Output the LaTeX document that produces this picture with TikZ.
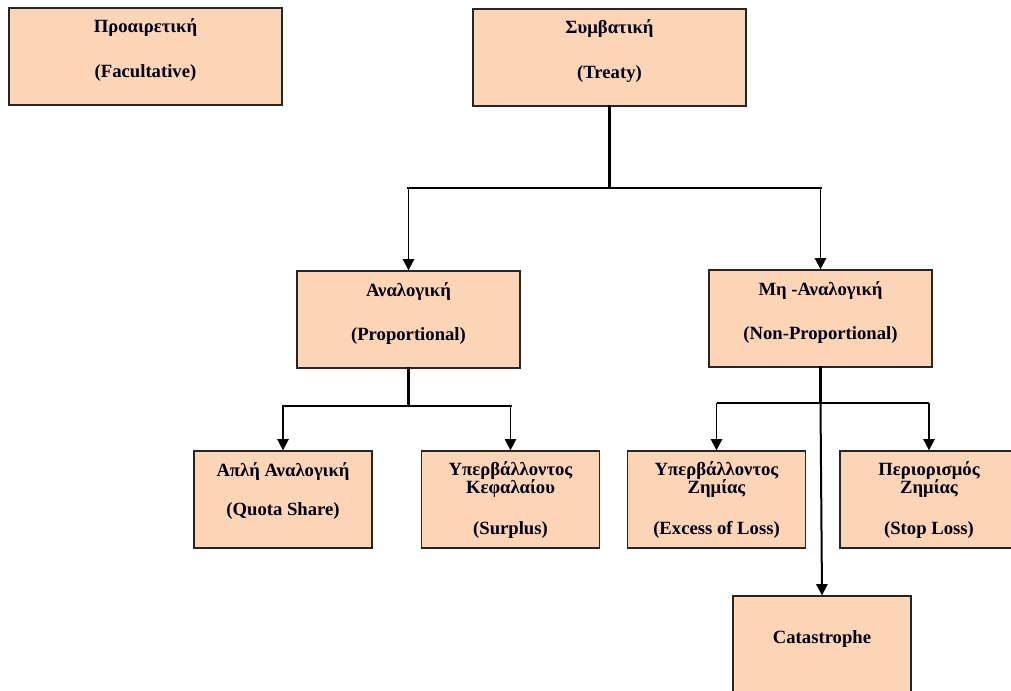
\documentclass[tikz,border=0pt]{standalone}
\usepackage{fontspec}
\setmainfont{Liberation Serif}
\usetikzlibrary{arrows.meta}
\definecolor{peach}{RGB}{251,213,181}
\tikzset{
  box/.style={draw=black!85, line width=0.9pt, fill=peach, inner sep=0pt, minimum height=72.75pt},
  lbl/.style={anchor=base, inner sep=0pt, font=\fontsize{14}{16}\bfseries\selectfont, text=black!90!blue},
  bus/.style={line width=1.9pt, line cap=rect},
  arr/.style={line width=1.2pt, -{Triangle[width=8.5pt,length=8.5pt]}}
}
\begin{document}
\begin{tikzpicture}[x=0.75pt,y=0.75pt,yscale=-1,xscale=1]
		\useasboundingbox (0,0) rectangle (1011,691);
		\clip (0,0) rectangle (1011,691);
		\node[box, minimum width=204.75pt] (fac) at (145.5,56.5) {};
		\node[box, minimum width=204.75pt] (treaty) at (609.5,57.5) {};
		\node[box, minimum width=167.25pt] (prop) at (408.5,319.5) {};
		\node[box, minimum width=167.25pt] (nonprop) at (820.5,318.5) {};
		\node[box, minimum width=133.5pt] (quota) at (283,499.5) {};
		\node[box, minimum width=133.5pt] (surplus) at (510.5,499.5) {};
		\node[box, minimum width=133.5pt] (xl) at (716.5,499.5) {};
		\node[box, minimum width=133.5pt] (stop) at (929,499.5) {};
		\node[box, minimum width=133.5pt] (cat) at (822,644.5) {};
		\node[lbl] (facG) at (145.5,33) {Προαιρετική};
		\node[lbl] (facE) at (145.5,78) {(Facultative)};
		\node[lbl] (treatyG) at (609.5,34) {Συμβατική};
		\node[lbl] (treatyE) at (609.5,79) {(Treaty)};
		\node[lbl] (propG) at (408.5,297) {Αναλογική};
		\node[lbl] (propE) at (408.5,341) {(Proportional)};
		\node[lbl] (nonpropG) at (820.5,296) {Μη -Αναλογική};
		\node[lbl] (nonpropE) at (820.5,340) {(Non-Proportional)};
		\node[lbl] (quotaG) at (283,477) {Απλή Αναλογική};
		\node[lbl] (quotaE) at (283,516) {(Quota Share)};
		\node[lbl] (surplusG) at (510.5,476) {Υπερβάλλοντος};
		\node[lbl] (surplusG2) at (510.5,494) {Κεφαλαίου};
		\node[lbl] (surplusE) at (510.5,535) {(Surplus)};
		\node[lbl] (xlG) at (716.5,476) {Υπερβάλλοντος};
		\node[lbl] (xlG2) at (716.5,494) {Ζημίας};
		\node[lbl] (xlE) at (716.5,535) {(Excess of Loss)};
		\node[lbl] (stopG) at (929,476) {Περιορισμός};
		\node[lbl] (stopG2) at (929,494) {Ζημίας};
		\node[lbl] (stopE) at (929,535) {(Stop Loss)};
		\node[lbl] (catE) at (822,643) {Catastrophe};
		\coordinate (tbus) at (609.5,188);
		\coordinate (pbus) at (408.5,406);
		\coordinate (nbus) at (820.5,403);
		\draw[bus] (treaty.south) -- (tbus);
		\draw[bus] (prop.north |- tbus) -- (nonprop.north |- tbus);
		\draw[arr] (prop.north |- tbus) -- (prop.north);
		\draw[arr] (nonprop.north |- tbus) -- (nonprop.north);
		\draw[bus] (prop.south) -- (pbus);
		\draw[bus] (quota.north |- pbus) -- (surplus.north |- pbus);
		\draw[arr] (quota.north |- pbus) -- (quota.north);
		\draw[arr] (surplus.north |- pbus) -- (surplus.north);
		\draw[bus] (nonprop.south) -- (nbus);
		\draw[line width=1.5pt] (xl.north |- nbus) -- (stop.north |- nbus);
		\draw[arr] (xl.north |- nbus) -- (xl.north);
		\draw[arr] (stop.north |- nbus) -- (stop.north);
		\draw[arr, line width=1.5pt] (nbus) -- (cat.north);
\end{tikzpicture}
\end{document}
